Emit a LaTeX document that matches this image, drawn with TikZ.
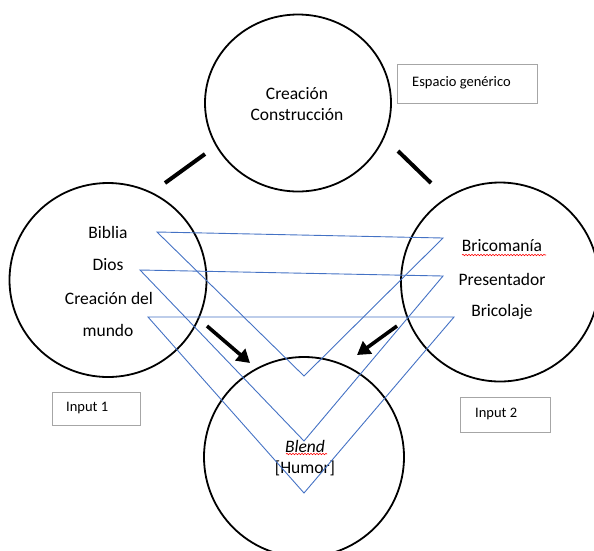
\documentclass[tikz,border=0pt]{standalone}
\usepackage{fontspec}
\setmainfont{Carlito}
\usetikzlibrary{shapes.geometric,arrows.meta,decorations.pathmorphing}
\definecolor{mapblue}{HTML}{4472C4}
\definecolor{boxgrey}{HTML}{A6A6A6}
\tikzset{
  space/.style={draw=black,line width=1.8pt,ellipse,inner sep=0pt},
  label/.style={font=\fontsize{17.5}{20}\selectfont,inner sep=0pt,anchor=center},
  tag/.style={draw=boxgrey,line width=0.9pt,inner sep=0pt,anchor=north west},
  tagtext/.style={font=\fontsize{14.5}{17}\selectfont,inner sep=0pt,anchor=west},
  mapping/.style={draw=mapblue,line width=0.9pt,line join=miter},
  link/.style={draw=black,line width=4pt},
  project/.style={draw=black,line width=3.6pt,-{Triangle[length=13pt,width=15pt]}},
  spell/.style={draw=red,line width=0.6pt,decorate,decoration={snake,amplitude=0.7pt,segment length=3pt}}
}
\begin{document}
\begin{tikzpicture}[x=1pt,y=-1pt]
\useasboundingbox (0,0) rectangle (594,550);
\clip (0,0) rectangle (594,550);

% the four mental spaces
\node[space,minimum width=186pt,minimum height=177pt] (generic) at (298,103) {};
\node[space,minimum width=197pt,minimum height=194pt] (input1) at (108,280) {};
\node[space,minimum width=198pt,minimum height=199pt] (input2) at (500,282) {};
\node[space,minimum width=200pt,minimum height=200pt] (blend) at (304,457) {};

% generic space
\node[label] (g1) at (297,94) {Creación};
\node[label] (g2) at (297,115) {Construcción};

% input 1
\node[label] (a1) at (108,232) {Biblia};
\node[label] (a2) at (108,265) {Dios};
\node[label] (a3) at (109,298) {Creación del};
\node[label] (a4) at (108,330) {mundo};

% input 2
\node[label] (b1) at (502,246) {Bricomanía};
\node[label] (b2) at (502,279) {Presentador};
\node[label] (b3) at (502,312) {Bricolaje};

% blend
\node[label] (c1) at (305,446) {\itshape Blend};
\node[label] (c2) at (305,468) {[Humor]};

% spell-check marks
\coordinate (s1a) at (462,255); \coordinate (s1b) at (546,255);
\coordinate (s2a) at (286,454); \coordinate (s2b) at (327,454);
\draw[spell] (s1a) -- (s1b);
\draw[spell] (s2a) -- (s2b);

% labels in boxes
\node[tag,minimum width=140pt,minimum height=39pt] (tagG) at (397,64) {};
\node[tagtext] (tagGt) at (412,83) {Espacio genérico};
\node[tag,minimum width=88pt,minimum height=33pt] (tag1) at (52,392) {};
\node[tagtext] (tag1t) at (66,408) {Input 1};
\node[tag,minimum width=90pt,minimum height=35pt] (tag2) at (460,397) {};
\node[tagtext] (tag2t) at (475,414) {Input 2};

% links between generic and input spaces
\coordinate (l1a) at (165,183); \coordinate (l1b) at (205,154);
\coordinate (l2a) at (398,151); \coordinate (l2b) at (431,183);
\draw[link] (l1a) -- (l1b);
\draw[link] (l2a) -- (l2b);

% cross-space mappings
\coordinate (p1) at (157,232); \coordinate (q1) at (443,238); \coordinate (r1) at (304,376);
\coordinate (p2) at (140,270); \coordinate (q2) at (443,276); \coordinate (r2) at (304,441);
\coordinate (p3) at (148,317); \coordinate (q3) at (454,317); \coordinate (r3) at (304,493);
\draw[mapping] (p1) -- (q1) -- (r1) -- cycle;
\draw[mapping] (p2) -- (q2) -- (r2) -- cycle;
\draw[mapping] (p3) -- (q3) -- (r3) -- cycle;

% projections into the blend
\coordinate (f1) at (207,326); \coordinate (t1) at (250,363);
\coordinate (f2) at (397,326); \coordinate (t2) at (357,355);
\draw[project] (f1) -- (t1);
\draw[project] (f2) -- (t2);
\end{tikzpicture}
\end{document}
